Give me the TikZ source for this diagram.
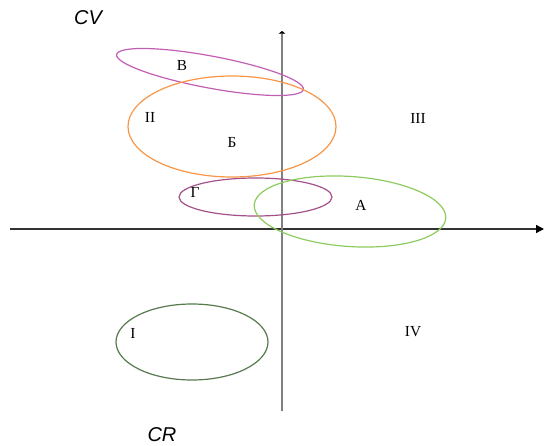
\documentclass[tikz,border=0pt]{standalone}
\usepackage{fontspec}
\setmainfont{Liberation Serif}
\setsansfont{Liberation Sans}
\usetikzlibrary{arrows.meta}

\definecolor{orchidB}{HTML}{C25FB4}
\definecolor{orangeB}{HTML}{F79646}
\definecolor{plumG}{HTML}{A4508A}
\definecolor{greenA}{HTML}{8CCB5E}
\definecolor{greenI}{HTML}{557A4E}

\begin{document}
\begin{tikzpicture}[x=0.75pt, y=-0.75pt,
    lbl/.style={font=\fontsize{11.5}{13}\selectfont, inner sep=0pt},
    axlbl/.style={font=\sffamily\itshape\fontsize{15}{18}\selectfont, inner sep=0pt},
    zone/.style={line width=0.9pt}]
\useasboundingbox (0,0) rectangle (544,446);

% Axes
\coordinate (xs) at (10,229);
\coordinate (xe) at (544,229);
\coordinate (ys) at (282,411);
\coordinate (ye) at (282,31);
\draw[black!80, line width=1pt, -{Triangle[length=6pt,width=6pt,black]}] (xs) -- (xe);
\draw[gray, line width=1.5pt, -{Triangle[length=2pt,width=5pt,black]}] (ys) -- (ye);

\node[axlbl] (cv) at (88,18) {CV};
\node[axlbl] (cr) at (162,435) {CR};

% Zones
\draw[zone, orchidB, rotate around={-10.6:(210,72)}] (210,72) ellipse (95 and 16);
\draw[zone, orangeB] (232,126.5) ellipse (104 and 50.5);
\draw[zone, plumG] (255.5,197) ellipse (76.5 and 19);
\draw[zone, greenA, rotate around={-4:(350,211.5)}] (350,211.5) ellipse (96 and 35);
\draw[zone, greenI] (192,342) ellipse (76 and 38);

% Labels
\node[lbl] (v) at (182,66) {В};
\node[lbl] (b) at (232,142) {Б};
\node[lbl] (g) at (195,192) {Г};
\node[lbl] (a) at (361,205) {А};
\node[lbl] (q2) at (150,117) {II};
\node[lbl] (q3) at (418,118) {III};
\node[lbl] (q1) at (133,333) {I};
\node[lbl] (q4) at (413,332) {IV};
\end{tikzpicture}
\end{document}
